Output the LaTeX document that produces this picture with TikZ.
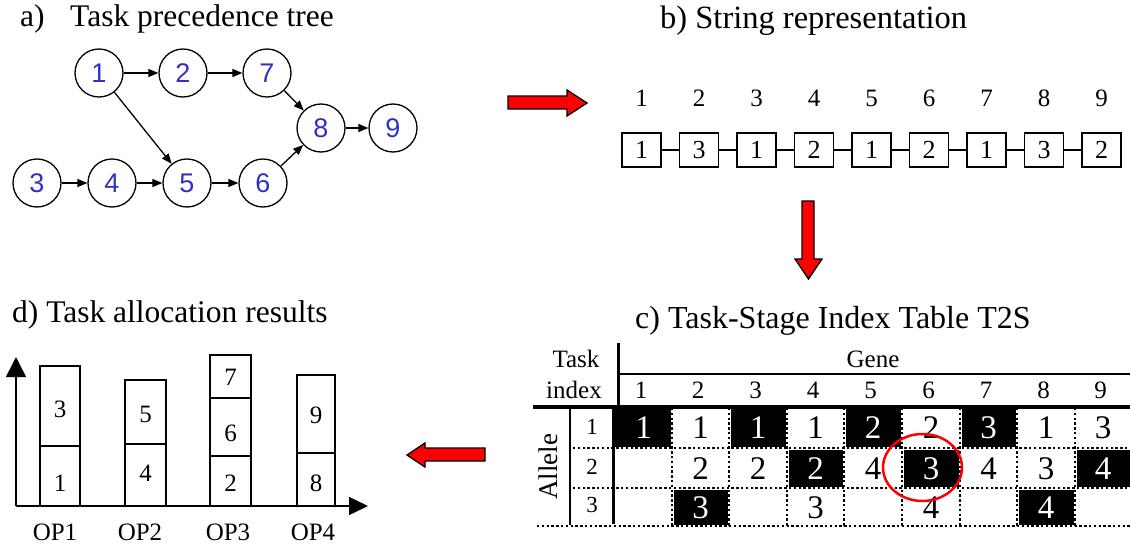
\documentclass[tikz,border=0pt]{standalone}
\usepackage{fontspec}
\setmainfont{Liberation Serif}
\newfontfamily\arialfont{Liberation Sans}
\usetikzlibrary{arrows.meta}
\definecolor{numblue}{RGB}{48,48,200}
\definecolor{arrred}{RGB}{255,0,0}
\begin{document}
\begin{tikzpicture}[x=1pt,y=-1pt,
  title/.style={font=\fontsize{31.5}{36}\selectfont, anchor=base west, inner sep=0pt},
  tnode/.style={circle, draw, line width=1.3pt, minimum size=48pt, inner sep=0pt,
    font=\arialfont\fontsize{27}{30}\selectfont, text=numblue},
  tedge/.style={-{Triangle[length=10pt,width=8pt]}, line width=1.3pt},
  idx/.style={font=\fontsize{25}{28}\selectfont, inner sep=0pt},
  gbox/.style={draw, line width=1.3pt, minimum width=39pt, minimum height=34pt, inner sep=0pt,
    font=\fontsize{26}{28}\selectfont},
  blockarrow/.style={fill=arrred, draw=black, line width=1.3pt, line join=miter},
  bar/.style={draw, line width=1.3pt},
  bartxt/.style={font=\fontsize{25}{28}\selectfont, inner sep=0pt},
  axis/.style={line width=1.5pt, -{Triangle[length=20pt,width=20pt]}},
  hdr/.style={font=\fontsize{25}{28}\selectfont, inner sep=0pt, anchor=base},
  cw/.style={font=\fontsize{33}{35}\selectfont, inner sep=0pt},
  cb/.style={cw, text=white},
  rowidx/.style={font=\fontsize{23}{25}\selectfont, inner sep=0pt},
  dotline/.style={line width=2.5pt, dash pattern=on 2.4pt off 2.4pt},
]
\useasboundingbox (0,0) rectangle (1130,546);

% ---------- a) task precedence tree ----------
\node[title] (ta1) at (20,27) {a)};
\node[title] (ta2) at (70,27) {Task precedence tree};
\node[tnode] (t1) at (99,73) {1};
\node[tnode] (t2) at (183,73) {2};
\node[tnode] (t7) at (267,73) {7};
\node[tnode] (t8) at (321,128) {8};
\node[tnode] (t9) at (393,128) {9};
\node[tnode] (t3) at (37,183) {3};
\node[tnode] (t4) at (112,183) {4};
\node[tnode] (t5) at (187,183) {5};
\node[tnode] (t6) at (263,183) {6};
\draw[tedge] (t1) -- (t2);
\draw[tedge] (t2) -- (t7);
\draw[tedge] (t7) -- (t8);
\draw[tedge] (t1) -- (t5);
\draw[tedge] (t3) -- (t4);
\draw[tedge] (t4) -- (t5);
\draw[tedge] (t5) -- (t6);
\draw[tedge] (t6) -- (t8);
\draw[tedge] (t8) -- (t9);

% ---------- b) string representation ----------
\node[title, font=\fontsize{32.5}{37}\selectfont] (tb) at (660,28) {b) String representation};
\foreach \i/\v in {1/1,2/3,3/1,4/2,5/1,6/2,7/1,8/3,9/2}{
  \pgfmathsetmacro{\xx}{641.5+57.5*(\i-1)}
  \node[idx] (s\i) at (\xx,98) {\i};
  \node[gbox] (g\i) at (\xx,150) {\v};
}
\foreach \i [evaluate=\i as \j using int(\i+1)] in {1,...,8}{
  \draw[line width=1.3pt] (g\i.east) -- (g\j.west);
}

% ---------- block arrows ----------
\draw[blockarrow] (508,96) -- (567,96) -- (567,90) -- (587,103) -- (567,116) -- (567,109) -- (508,109) -- cycle;
\draw[blockarrow] (802,201) -- (814,201) -- (814,259) -- (822,259) -- (808.5,279) -- (795,259) -- (802,259) -- cycle;
\draw[blockarrow] (485,448) -- (425,448) -- (425,443) -- (407,455) -- (425,467) -- (425,461) -- (485,461) -- cycle;

% ---------- c) table ----------
\node[title, font=\fontsize{32}{36}\selectfont] (tc) at (635,328) {c) Task-Stage Index Table T2S};
% black cells
\fill (614.5,408.5) rectangle (670.5,446.5);
\fill (730.5,408.5) rectangle (785.5,446.5);
\fill (845.5,408.5) rectangle (900.5,446.5);
\fill (961.5,408.5) rectangle (1015.5,446.5);
\fill (788.5,449.5) rectangle (842.5,486.5);
\fill (903.5,449.5) rectangle (958.5,486.5);
\fill (1076.5,449.5) rectangle (1130,486.5);
\fill (673.5,489.5) rectangle (727.5,524.5);
\fill (1018.5,489.5) rectangle (1073.5,524.5);
% dotted grid
\draw[dotline] (573,448) -- (1130,448);
\draw[dotline] (573,488) -- (1130,488);
\draw[dotline] (537,526) -- (1130,526);
\foreach \x in {672,729,787,844,902,960,1017,1075}{
  \draw[dotline] (\x,408) -- (\x,526);
}
% solid rules
\draw[line width=3pt] (618,343) -- (618,407);
\draw[line width=3pt] (613.5,407) -- (613.5,524);
\draw[line width=3.5pt] (533,407) -- (1130,407);
\draw[line width=1.5pt] (618,374) -- (1130,374);
\draw[line width=1.5pt] (570,407) -- (570,525);
% headers
\node[hdr] (hTask) at (576,367) {Task};
\node[hdr] (hIndex) at (574,398) {index};
\node[hdr] (hGene) at (873,367) {Gene};
\foreach \i/\x in {1/641,2/698,3/755.5,4/813,5/870.5,6/928.5,7/986,8/1043.5,9/1100.5}{
  \node[hdr] (hc\i) at (\x,398) {\i};
}
\node[font=\fontsize{27}{30}\selectfont, inner sep=0pt, rotate=90] (hAllele) at (548,467) {Allele};
\node[rowidx] (r1) at (592,427) {1};
\node[rowidx] (r2) at (592,467) {2};
\node[rowidx] (r3) at (592,505) {3};
% cell values
\foreach \n/\x/\y/\v/\s in {
  a1/643.5/428/1/cb, a2/700.5/428/1/cw, a3/758/428/1/cb, a4/815.5/428/1/cw, a5/873/428/2/cb,
  a6/931/428/2/cw, a7/988.5/428/3/cb, a8/1046/428/1/cw, a9/1103/428/3/cw,
  b2/700.5/468.5/2/cw, b3/758/468.5/2/cw, b4/815.5/468.5/2/cb, b5/873/468.5/4/cw,
  b6/931/468.5/3/cb, b7/988.5/468.5/4/cw, b8/1046/468.5/3/cw, b9/1103/468.5/4/cb,
  c2/700.5/508/3/cb, c4/815.5/508/3/cw, c6/931/508/4/cw, c8/1046/508/4/cb}{
  \node[\s] (cell\n) at (\x,\y) {\v};
}
\draw[arrred, line width=2.5pt] (922.5,467.5) ellipse [x radius=39.5, y radius=33.5];

% ---------- d) task allocation ----------
\node[title] (td) at (12,322) {d) Task allocation results};
\draw[bar] (40,366) rectangle (80,506);
\draw[bar] (40,446) -- (80,446);
\draw[bar] (125,380) rectangle (166,506);
\draw[bar] (125,444) -- (166,444);
\draw[bar] (210,355) rectangle (251,506);
\draw[bar] (210,398) -- (251,398);
\draw[bar] (210,456) -- (251,456);
\draw[bar] (297,375) rectangle (335,506);
\draw[bar] (297,453) -- (335,453);
\node[bartxt] (d3) at (60,409) {3};
\node[bartxt] (d1) at (60,483) {1};
\node[bartxt] (d5) at (145.5,414) {5};
\node[bartxt] (d4) at (145.5,473) {4};
\node[bartxt] (d7) at (230.5,377) {7};
\node[bartxt] (d6) at (230.5,433) {6};
\node[bartxt] (d2) at (230.5,483) {2};
\node[bartxt] (d9) at (316,415) {9};
\node[bartxt] (d8) at (316,483) {8};
\coordinate (org) at (16,506);
\coordinate (ytip) at (16,357);
\coordinate (xtip) at (368,506);
\draw[axis] (org) -- (ytip);
\draw[axis, -{Triangle[length=19pt,width=18pt]}] (org) -- (xtip);
\node[hdr] (op1) at (55,540) {OP1};
\node[hdr] (op2) at (140,540) {OP2};
\node[hdr] (op3) at (228,540) {OP3};
\node[hdr] (op4) at (313,540) {OP4};
\end{tikzpicture}
\end{document}
